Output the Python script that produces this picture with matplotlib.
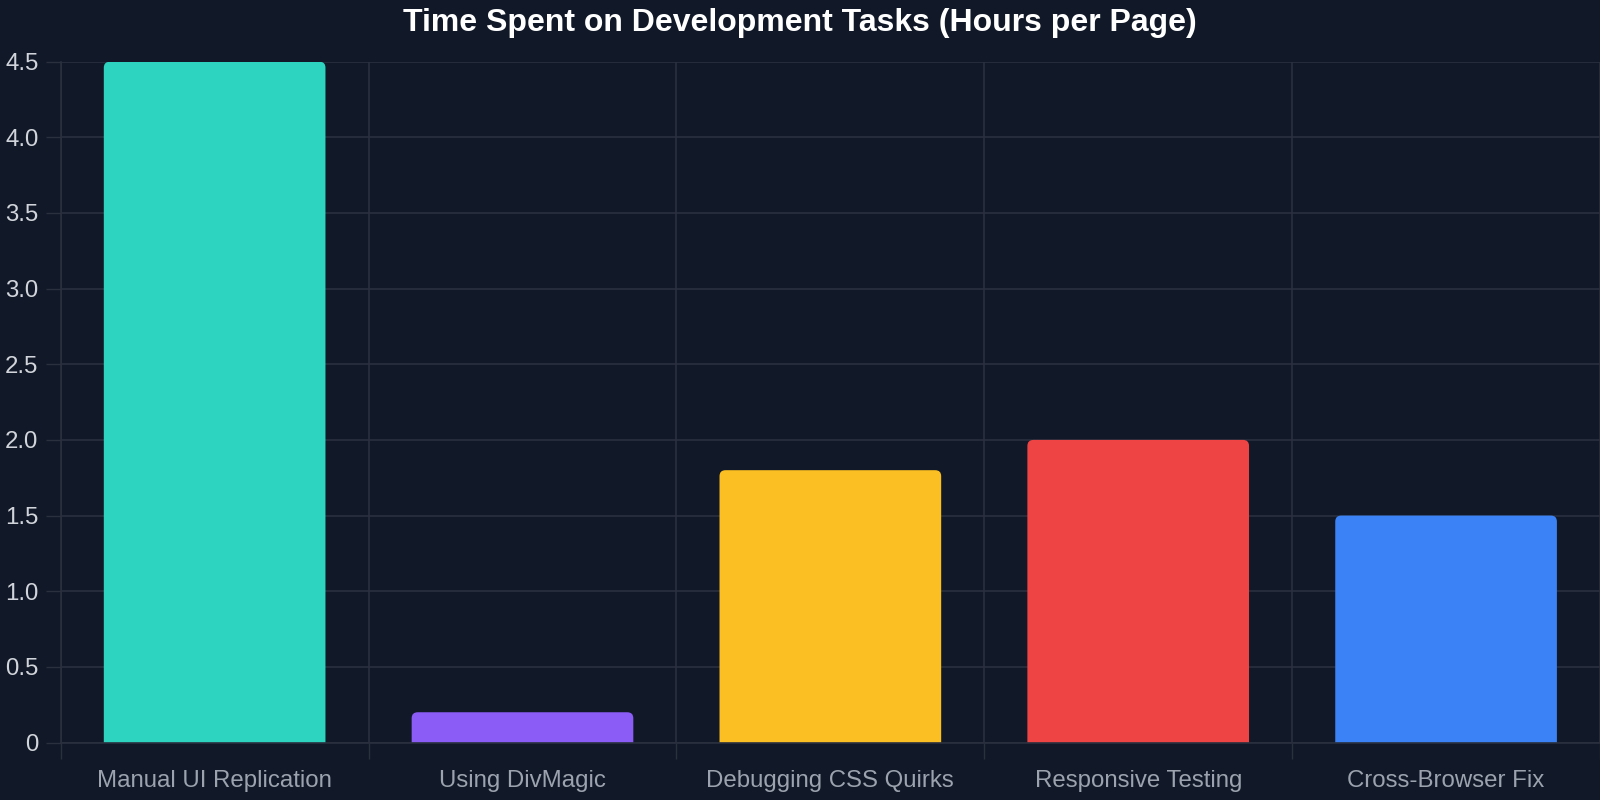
import matplotlib
matplotlib.use("Agg")
import matplotlib.pyplot as plt
from matplotlib.patches import FancyBboxPatch
from matplotlib.ticker import FixedLocator, FuncFormatter

categories = ["Manual UI Replication", "Using DivMagic", "Debugging CSS Quirks",
              "Responsive Testing", "Cross-Browser Fix"]
hours = [4.5, 0.2, 1.8, 2.0, 1.5]
bar_colors = ["#2dd4bf", "#8b5cf6", "#fbbf24", "#ef4444", "#3b82f6"]
y_ticks = [0, 0.5, 1.0, 1.5, 2.0, 2.5, 3.0, 3.5, 4.0, 4.5]
title = "Time Spent on Development Tasks (Hours per Page)"

BG = "#111827"
GRID = "#2a303e"
plt.rcParams['font.family'] = ['Liberation Sans', 'DejaVu Sans']

W, H, DPI = 1600, 800, 100
fig = plt.figure(figsize=(W / DPI, H / DPI), dpi=DPI, facecolor=BG)
left, right, top, bottom = 60.7, 1600, 61.7, 742.5
ax = fig.add_axes([left / W, 1 - bottom / H, (right - left) / W, (bottom - top) / H])
ax.set_facecolor(BG)

n = len(categories)
ax.set_xlim(-0.5, n - 0.5)
ax.set_ylim(0, 4.5)

# pixel scale for rounded corners
px_x = (right - left) / n
px_y = (bottom - top) / 4.5
radius_px = 6
rx = radius_px / px_x
aspect = px_x / px_y
bar_w = 0.72
ext = 0.1  # extend below zero so bottom rounding is clipped

for i, (v, c) in enumerate(zip(hours, bar_colors)):
    x0 = i - bar_w / 2
    p = FancyBboxPatch((x0, -ext), bar_w, v + ext,
                       boxstyle=f"round,pad=0,rounding_size={rx}",
                       mutation_aspect=aspect,
                       facecolor=c, edgecolor="none", zorder=3)
    ax.add_patch(p)

ax.set_xticks(range(n))
ax.set_xticklabels(categories)
ax.xaxis.set_minor_locator(FixedLocator([i - 0.5 for i in range(n + 1)]))
ax.tick_params(axis='x', which='major', length=0, pad=20, labelsize=17.3, labelcolor="#9ca3af")
ax.tick_params(axis='x', which='minor', length=11.5, width=1, color=GRID)

ax.set_yticks(y_ticks)
ax.yaxis.set_major_formatter(FuncFormatter(lambda v, p: "0" if v == 0 else f"{v:.1f}"))
ax.tick_params(axis='y', which='major', length=11, width=1, color=GRID, pad=5,
               labelsize=17.3, labelcolor="#d1d5db")

ax.grid(True, axis='y', which='major', color=GRID, linewidth=1.2, zorder=0)
ax.grid(True, axis='x', which='minor', color=GRID, linewidth=1.2, zorder=0)
ax.set_axisbelow(True)

for s in ['top', 'right']:
    ax.spines[s].set_visible(False)
for s in ['left', 'bottom']:
    ax.spines[s].set_color(GRID)
    ax.spines[s].set_linewidth(1.2)
    ax.spines[s].set_zorder(4)

fig.text(0.5, 1 - 22.5 / H, title, ha='center', va='center', color='#ffffff',
         fontsize=23.0, fontweight='bold')

fig.savefig("out.png", dpi=DPI, facecolor=BG)
